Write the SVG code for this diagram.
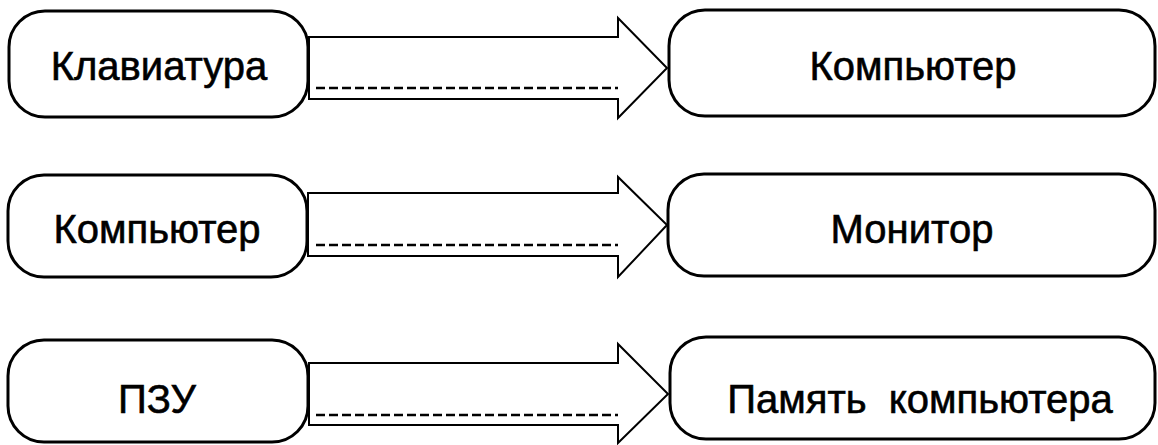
<svg xmlns="http://www.w3.org/2000/svg" width="1158" height="445" viewBox="0 0 1158 445">
<style>
.box{fill:#fff;stroke:#000;stroke-width:3}
.arr{fill:#fff;stroke:#000;stroke-width:2;stroke-linejoin:miter}
.dash{fill:none;stroke:#000;stroke-width:2.5;stroke-dasharray:9 4}
text{font-family:"Liberation Sans",Arial,sans-serif;font-size:40px;fill:#000;stroke:#000;stroke-width:0.6;text-anchor:middle}
</style>
<rect width="1158" height="445" fill="#fff"/>
<g id="connectors">
<polygon class="arr" points="309,37 618,37 618,18 667,68 618,118 618,99 309,99"/>
<line class="dash" x1="316" y1="88" x2="618" y2="88"/>
<polygon class="arr" points="308,193 618,193 618,177 667,225 618,277 618,256 308,256"/>
<line class="dash" x1="316" y1="245" x2="618" y2="245"/>
<polygon class="arr" points="309,363 618,363 618,344 668,394 618,443 618,425 309,425"/>
<line class="dash" x1="316" y1="415" x2="618" y2="415"/>
</g>
<g id="n1"><rect class="box" x="9" y="11" width="299" height="106" rx="36"/><text x="159" y="80">Клавиатура</text></g>
<g id="n2"><rect class="box" x="669" y="10" width="486" height="106" rx="36"/><text x="913" y="80">Компьютер</text></g>
<g id="n3"><rect class="box" x="8" y="175" width="299" height="102" rx="36"/><text x="157" y="243">Компьютер</text></g>
<g id="n4"><rect class="box" x="668" y="174" width="487" height="102" rx="36"/><text x="912" y="243">Монитор</text></g>
<g id="n5"><rect class="box" x="8" y="340" width="300" height="102" rx="36"/><text x="157" y="413">ПЗУ</text></g>
<g id="n6"><rect class="box" x="670" y="337" width="485" height="102" rx="36"/><text x="920" y="413" xml:space="preserve">Память  компьютера</text></g>
</svg>
